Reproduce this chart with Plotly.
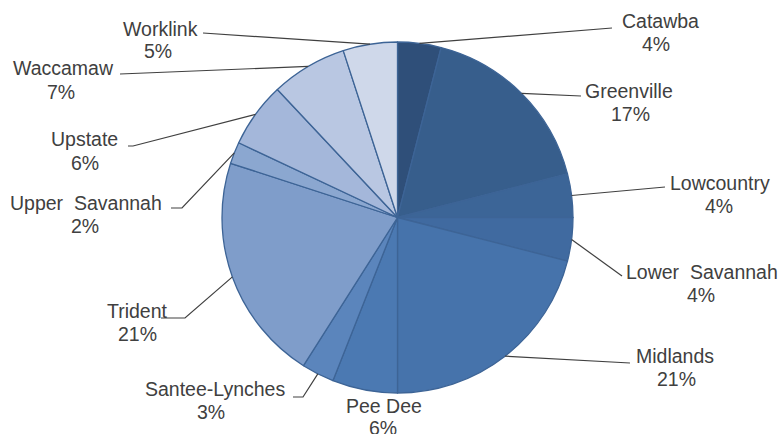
import math
import plotly.graph_objects as go

# ---- data ----
regions = ["Catawba", "Greenville", "Lowcountry", "Lower  Savannah", "Midlands", "Pee Dee",
           "Santee-Lynches", "Trident", "Upper  Savannah", "Upstate", "Waccamaw", "Worklink"]
shares = [4, 17, 4, 4, 21, 6, 3, 21, 2, 6, 7, 5]

# ---- styles / layout ----
slice_colors = ["#2f4f79", "#375e8c", "#3c6597", "#406aa0", "#4673ab", "#4b79b2",
                "#5b85bc", "#7f9dca", "#8ba7d0", "#a4b7da", "#b9c7e2", "#cfd8ea"]
W, H = 779, 434
CX, CY, R = 397.5, 217.5, 175.5
TEXT_COLOR = "#404040"
FONT = "Liberation Sans, Arial, sans-serif"
FS = 19.5

# label layout: (name_x, name_y, pct_x, pct_y) in pixels, plus leader polyline tail points
label_layout = [
    (660, 21, 656, 44),
    (629, 91, 630, 114),
    (720, 183, 719, 206),
    (702, 272, 701, 295),
    (675, 356, 676, 379),
    (384, 406, 383, 428),
    (215, 389, 211, 412),
    (137, 311, 137, 334),
    (86, 203, 85, 226),
    (84, 139, 85, 163),
    (63, 68, 61, 92),
    (160, 29, 158, 51),
]
leader_tails = [
    [(612, 28)],
    [(581, 96)],
    [(665, 187)],
    [(622, 276)],
    [(630, 363)],
    [],
    [(303, 397), (293, 397)],
    [(185, 318), (161, 318)],
    [(182, 208), (171, 208)],
    [(133, 146), (128, 146)],
    [(120, 74)],
    [(203, 33)],
]

fig = go.Figure()
fig.add_trace(go.Pie(
    labels=regions, values=shares, sort=False, direction="clockwise", rotation=0,
    marker=dict(colors=slice_colors, line=dict(color="#3d6496", width=1.3)),
    textinfo="none", hoverinfo="label+percent", showlegend=False,
    domain=dict(x=[(CX - R) / W, (CX + R) / W], y=[1 - (CY + R) / H, 1 - (CY - R) / H]),
))

total = sum(shares)
cum = 0
shapes = []
annotations = []
for name, v, lay, tail in zip(regions, shares, label_layout, leader_tails):
    mid = (cum + v / 2) / total * 2 * math.pi
    cum += v
    sx, sy = CX + R * math.sin(mid), CY - R * math.cos(mid)
    pts = [(sx, sy)] + tail
    if tail:
        path = "M " + " L ".join(f"{x:.1f},{y:.1f}" for x, y in pts)
        shapes.append(dict(type="path", path=path, xref="x", yref="y",
                           line=dict(color=TEXT_COLOR, width=1.2)))
    nx, ny, px, py = lay
    annotations.append(dict(x=nx, y=ny, xref="x", yref="y", text=name, showarrow=False,
                            xanchor="center", yanchor="middle",
                            font=dict(family=FONT, size=FS, color=TEXT_COLOR)))
    annotations.append(dict(x=px, y=py, xref="x", yref="y", text=f"{v}%", showarrow=False,
                            xanchor="center", yanchor="middle",
                            font=dict(family=FONT, size=FS, color=TEXT_COLOR)))

fig.update_layout(
    width=W, height=H, margin=dict(l=0, r=0, t=0, b=0),
    paper_bgcolor="white", plot_bgcolor="rgba(0,0,0,0)",
    xaxis=dict(range=[0, W], visible=False, fixedrange=True),
    yaxis=dict(range=[H, 0], visible=False, fixedrange=True),
    shapes=shapes, annotations=annotations,
)
fig.write_html("out.html", config={"displayModeBar": False})

# remove the browser's default body margin so the figure sits at the page's top-left corner
with open("out.html", encoding="utf-8") as f:
    html = f.read()
html = html.replace("<body>", '<body style="margin:0;padding:0;overflow:hidden">', 1)
with open("out.html", "w", encoding="utf-8") as f:
    f.write(html)
